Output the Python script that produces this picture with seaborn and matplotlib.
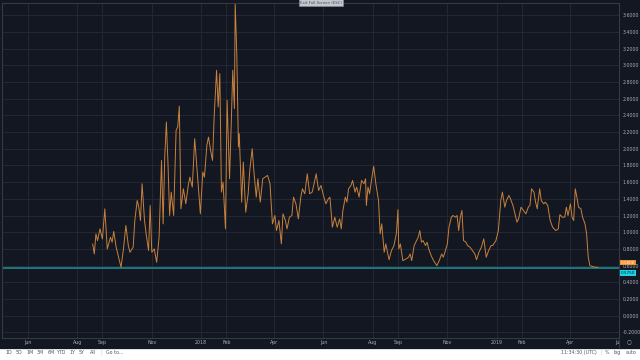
import pandas as pd
import matplotlib
matplotlib.use("Agg")
import matplotlib.pyplot as plt
import matplotlib.patches as mpatches
import matplotlib.lines as mlines
import matplotlib.transforms as mtransforms
import seaborn as sns

# series: days relative to 2018-01-01 and the plotted value
anchor = pd.Timestamp("2018-01-01")
day_offsets = [
    -134, -132, -130, -128, -125, -122, -119, -116, -112, -110,
    -108, -105, -102, -99, -96, -93, -90, -88, -84, -82,
    -79, -77, -75, -73, -70, -68, -65, -63, -61, -58,
    -55, -52, -49, -47, -45, -43, -41, -39, -37, -34,
    -31, -29, -27, -25, -22, -19, -16, -14, -11, -8,
    -5, -3, -1, 2, 4, 7, 9, 12, 14, 16,
    19, 21, 23, 25, 27, 30, 32, 35, 37, 39,
    41, 42, 44, 46, 47, 50, 52, 55, 58, 60,
    63, 65, 68, 70, 73, 76, 79, 82, 85, 88,
    91, 93, 96, 99, 101, 104, 106, 109, 112, 114,
    117, 120, 123, 125, 128, 131, 134, 137, 139, 142,
    145, 148, 151, 154, 157, 159, 162, 165, 168, 171,
    173, 175, 178, 180, 182, 185, 187, 190, 192, 195,
    198, 201, 203, 204, 206, 208, 210, 213, 216, 219,
    221, 223, 226, 228, 232, 235, 238, 241, 243, 244,
    246, 249, 253, 256, 258, 260, 263, 266, 268, 270,
    272, 274, 277, 279, 281, 284, 287, 291, 294, 297,
    299, 301, 304, 306, 309, 311, 314, 316, 318, 320,
    322, 324, 327, 329, 332, 335, 338, 340, 343, 346,
    349, 352, 355, 358, 360, 364, 367, 369, 370, 372,
    375, 377, 380, 382, 385, 388, 390, 392, 395, 398,
    401, 404, 406, 408, 411, 413, 415, 418, 420, 423,
    425, 428, 431, 434, 438, 441, 443, 446, 449, 451,
    453, 456, 458, 460, 462, 464, 466, 469, 471, 474,
    476, 478, 480, 483, 487, 490,
]
values = [
    0.86, 0.74, 0.98, 0.90, 1.04, 0.92, 1.28, 0.80, 0.94, 0.88,
    1.01, 0.82, 0.70, 0.58, 0.80, 1.08, 0.84, 0.76, 0.82, 1.14,
    1.38, 1.30, 1.14, 1.58, 1.14, 0.98, 0.78, 1.32, 0.76, 0.80,
    0.64, 0.94, 1.86, 1.10, 1.90, 2.32, 1.82, 1.20, 1.48, 1.20,
    2.22, 2.26, 2.51, 1.28, 1.52, 1.34, 1.56, 1.66, 1.54, 2.12,
    1.74, 1.50, 1.22, 1.72, 1.66, 2.04, 2.14, 1.96, 1.86, 2.38,
    2.94, 2.50, 2.90, 1.48, 1.60, 1.04, 2.58, 1.64, 2.26, 2.94,
    2.48, 3.75, 3.12, 2.02, 2.18, 1.36, 1.84, 1.24, 1.46, 1.74,
    2.00, 1.74, 1.42, 1.64, 1.36, 1.64, 1.66, 1.68, 1.58, 1.10,
    1.20, 1.02, 1.14, 0.86, 1.22, 1.14, 1.04, 1.18, 1.20, 1.42,
    1.34, 1.16, 1.42, 1.52, 1.46, 1.70, 1.46, 1.48, 1.56, 1.70,
    1.50, 1.56, 1.44, 1.34, 1.40, 1.42, 1.06, 1.18, 1.06, 1.16,
    1.04, 1.26, 1.42, 1.36, 1.52, 1.56, 1.62, 1.48, 1.54, 1.42,
    1.62, 1.58, 1.64, 1.32, 1.54, 1.46, 1.60, 1.79, 1.56, 1.38,
    0.98, 1.10, 0.76, 0.86, 0.67, 0.78, 0.84, 0.98, 1.27, 0.80,
    0.86, 0.66, 0.68, 0.70, 0.74, 0.66, 0.84, 0.90, 0.94, 1.02,
    0.88, 0.90, 0.84, 0.88, 0.80, 0.72, 0.66, 0.60, 0.66, 0.74,
    0.70, 0.76, 0.86, 1.06, 1.18, 1.20, 1.18, 1.20, 1.02, 1.18,
    1.26, 0.90, 0.88, 0.84, 0.82, 0.78, 0.74, 0.67, 0.76, 0.82,
    0.92, 0.70, 0.78, 0.84, 0.84, 0.90, 1.02, 1.26, 1.38, 1.48,
    1.30, 1.38, 1.44, 1.40, 1.32, 1.20, 1.12, 1.16, 1.30, 1.26,
    1.22, 1.30, 1.32, 1.52, 1.48, 1.36, 1.28, 1.52, 1.38, 1.34,
    1.36, 1.32, 1.14, 1.06, 1.02, 1.04, 1.21, 1.18, 1.18, 1.30,
    1.20, 1.34, 1.18, 1.14, 1.52, 1.42, 1.30, 1.28, 1.18, 1.10,
    0.98, 0.70, 0.60, 0.59, 0.58, 0.58,
]
level = 0.575

tick_dates = ["2017-06-01", "2017-08-01", "2017-09-01", "2017-11-01", "2018-01-01",
              "2018-02-01", "2018-04-01", "2018-06-01", "2018-08-01", "2018-09-01",
              "2018-11-01", "2019-01-01", "2019-02-01", "2019-04-01", "2019-06-01"]
tick_labels = ["Jun", "Aug", "Sep", "Nov", "2018", "Feb", "Apr", "Jun", "Aug", "Sep",
               "Nov", "2019", "Feb", "Apr", "Jun"]
y_ticks = [-0.2, 0.0, 0.2, 0.4, 0.6, 0.8, 1.0, 1.2, 1.4, 1.6, 1.8, 2.0,
           2.2, 2.4, 2.6, 2.8, 3.0, 3.2, 3.4, 3.6]
range_buttons = ["1D", "5D", "1M", "3M", "6M", "YTD", "1Y", "5Y", "All"]

bg = "#131722"
grid_c = "#242834"
border_c = "#363a45"
text_c = "#a9acb5"
line_c = "#c8813d"
level_c = "#1d7f86"

df = pd.DataFrame({"date": anchor + pd.to_timedelta(day_offsets, unit="D"),
                   "value": values})

sns.set_theme(style="dark")
plt.rcParams["font.family"] = ["DejaVu Sans"]

fig = plt.figure(figsize=(6.4, 3.6), dpi=100, facecolor=bg)
ax = fig.add_axes([2 / 640, 22 / 360, 617 / 640, 335 / 360])
ax.set_facecolor(bg)

sns.lineplot(data=df, x="date", y="value", ax=ax, color=line_c, linewidth=0.7)
ax.axhline(level, color=level_c, linewidth=1.3, zorder=1)

ax.set_xlim(pd.Timestamp("2017-04-30"), pd.Timestamp("2019-05-31"))
ax.set_ylim(-0.267, 3.745)
ax.set_xticks(pd.to_datetime(tick_dates))
ax.set_xticklabels(tick_labels)
ax.set_yticks(y_ticks)
ax.set_yticklabels([f"{v:.4f}" for v in y_ticks])
ax.yaxis.tick_right()
ax.tick_params(axis="both", length=0, labelsize=3.4, labelcolor=text_c)
ax.tick_params(axis="y", pad=2.4)
ax.tick_params(axis="x", pad=1.6)
ax.grid(True, color=grid_c, linewidth=0.7)
ax.set_xlabel("")
ax.set_ylabel("")
for s in ax.spines.values():
    s.set_color(border_c)
    s.set_linewidth(0.8)

# last value / level tags on the price scale
blend = mtransforms.blended_transform_factory(ax.transAxes, ax.transData)
ax.text(1.003, 0.635, f"{values[-1]:.4f}", transform=blend, ha="left", va="center",
        size=3.0, color="white", clip_on=False,
        bbox=dict(boxstyle="square,pad=0.15", fc="#ef8f2f", ec="none"))
ax.text(1.003, 0.51, f"{level:.4f}", transform=blend, ha="left", va="center",
        size=3.0, color="#131722", clip_on=False,
        bbox=dict(boxstyle="square,pad=0.15", fc="#19d3e6", ec="none"))

# hide the part of the last month label running under the price scale
fig.add_artist(mpatches.Rectangle((619 / 640, 11 / 360), 21 / 640, 11 / 360,
                                  transform=fig.transFigure, fc=bg, ec="none", zorder=5))
fig.add_artist(mlines.Line2D([619 / 640, 619 / 640], [11 / 360, 22 / 360],
                             transform=fig.transFigure, color=border_c, lw=0.8, zorder=6))
fig.text(629 / 640, 18 / 360, "○", ha="center", va="center", size=4, color=text_c, zorder=6)

# bottom toolbar
fig.add_artist(mpatches.Rectangle((0, 0), 1, 11 / 360, transform=fig.transFigure,
                                  fc="#ffffff", ec="none", zorder=5))
fig.add_artist(mlines.Line2D([0, 1], [11 / 360, 11 / 360], transform=fig.transFigure,
                             color="#d6d9e0", lw=0.6, zorder=6))
button_x = [9, 19, 30, 40, 51, 62, 72, 82, 93]
for bx, lab in zip(button_x, range_buttons):
    fig.text(bx / 640, 7.5 / 360, lab, ha="center", va="center", size=3.4,
             color="#50535e", zorder=7)
fig.text(101 / 640, 7.5 / 360, "|", ha="center", va="center", size=3.4, color="#c5c8cf", zorder=7)
fig.text(115 / 640, 7.5 / 360, "Go to...", ha="center", va="center", size=3.4,
         color="#50535e", zorder=7)
fig.text(579 / 640, 7.5 / 360, "11:34:30 (UTC)", ha="center", va="center", size=3.4,
         color="#50535e", zorder=7)
fig.text(601 / 640, 7.5 / 360, "|", ha="center", va="center", size=3.4, color="#c5c8cf", zorder=7)
fig.text(607 / 640, 7.5 / 360, "%", ha="center", va="center", size=3.4, color="#50535e", zorder=7)
fig.text(617 / 640, 7.5 / 360, "log", ha="center", va="center", size=3.4, color="#50535e", zorder=7)
fig.text(631 / 640, 7.5 / 360, "auto", ha="center", va="center", size=3.4, color="#50535e", zorder=7)

# browser full-screen hint at the top
fig.text(321 / 640, 1 - 2.5 / 360, "Exit Full Screen (ESC)", ha="center", va="center",
         size=2.8, color="#4a4d57", zorder=7,
         bbox=dict(boxstyle="square,pad=0.3", fc="#c3c6cc", ec="#8c8f98", lw=0.4))

fig.savefig("out.png", dpi=100, facecolor=bg)
